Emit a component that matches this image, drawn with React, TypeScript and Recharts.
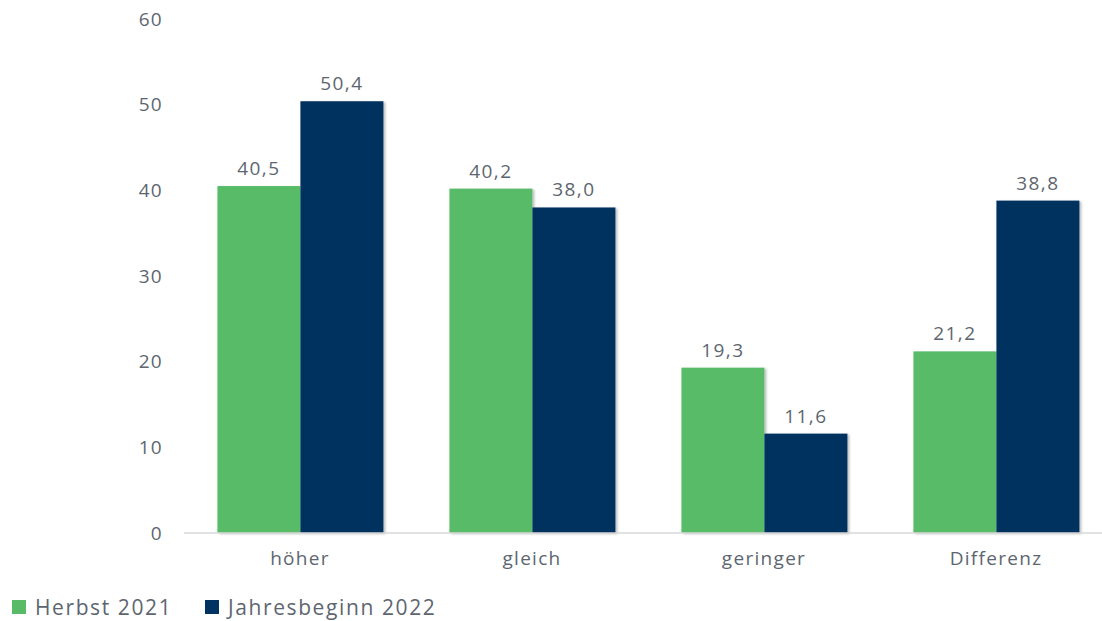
import React from "react";
import { BarChart, Bar, XAxis, YAxis, LabelList, Legend } from "recharts";

const categories = ["höher", "gleich", "geringer", "Differenz"];
const herbst2021 = [40.5, 40.2, 19.3, 21.2];
const jahresbeginn2022 = [50.4, 38.0, 11.6, 38.8];
const yTicks = [0, 10, 20, 30, 40, 50, 60];
const seriesNames = ["Herbst 2021", "Jahresbeginn 2022"];

const GREEN = "#59BB68";
const NAVY = "#003361";
const TEXT = "#5d6670";
const FONT = "'Open Sans', sans-serif";

const data = categories.map((c, i) => ({
  cat: c,
  h: herbst2021[i],
  j: jahresbeginn2022[i],
}));

const fmt = (v: any) => Number(v).toFixed(1).replace(".", ",");

const ShadowRect = (props: any) => {
  const { x, y, width, height, fill } = props;
  return <rect x={x} y={y} width={width} height={height} fill={fill} filter="url(#barShadow)" />;
};

const LegendContent = (props: any) => {
  const items = [
    { name: seriesNames[0], color: GREEN, left: 12 },
    { name: seriesNames[1], color: NAVY, left: 205 },
  ];
  return (
    <div style={{ position: "relative", height: 30, fontFamily: FONT, fontSize: 21, letterSpacing: 1.6, color: TEXT }}>
      {items.map((it) => (
        <div key={it.name} style={{ position: "absolute", left: it.left, top: 0, display: "flex", alignItems: "center", whiteSpace: "nowrap" }}>
          <span style={{ display: "inline-block", width: 14, height: 14, background: it.color, marginRight: 9 }} />
          <span>{it.name}</span>
        </div>
      ))}
    </div>
  );
};

const tickStyle = { fill: TEXT, fontSize: 19, fontFamily: FONT, letterSpacing: 1.3 };

export default function App() {
  return (
    <div style={{ position: "absolute", left: 0, top: 0, width: 1102, height: 621, overflow: "hidden", background: "#fff" }}>
      <BarChart
        width={1130}
        height={621}
        data={data}
        margin={{ top: 19, right: 18, bottom: 28, left: 0 }}
        barCategoryGap="14.4%"
        barGap={0}
      >
        <defs>
          <filter id="barShadow" x="-10%" y="-5%" width="130%" height="115%">
            <feDropShadow dx="2" dy="1" stdDeviation="1.2" floodColor="#000" floodOpacity="0.25" />
          </filter>
        </defs>
        <XAxis
          dataKey="cat"
          height={30}
          axisLine={{ stroke: "#d9d9d9", strokeWidth: 1.5 }}
          tickLine={false}
          tickMargin={13}
          tick={tickStyle}
        />
        <YAxis
          width={184}
          domain={[0, 60]}
          ticks={yTicks}
          axisLine={false}
          tickLine={false}
          tickMargin={15}
          tick={tickStyle}
        />
        <Legend
          verticalAlign="bottom"
          align="left"
          height={30}
          content={<LegendContent />}
          wrapperStyle={{ left: 0, top: 593, width: 600 }}
        />
        <Bar dataKey="h" name={seriesNames[0]} fill={GREEN} isAnimationActive={false} shape={<ShadowRect />}>
          <LabelList dataKey="h" position="top" offset={11} formatter={fmt} style={{ fill: TEXT, fontSize: 19, fontFamily: FONT, letterSpacing: 1.5 }} />
        </Bar>
        <Bar dataKey="j" name={seriesNames[1]} fill={NAVY} isAnimationActive={false} shape={<ShadowRect />}>
          <LabelList dataKey="j" position="top" offset={11} formatter={fmt} style={{ fill: TEXT, fontSize: 19, fontFamily: FONT, letterSpacing: 1.5 }} />
        </Bar>
      </BarChart>
    </div>
  );
}
